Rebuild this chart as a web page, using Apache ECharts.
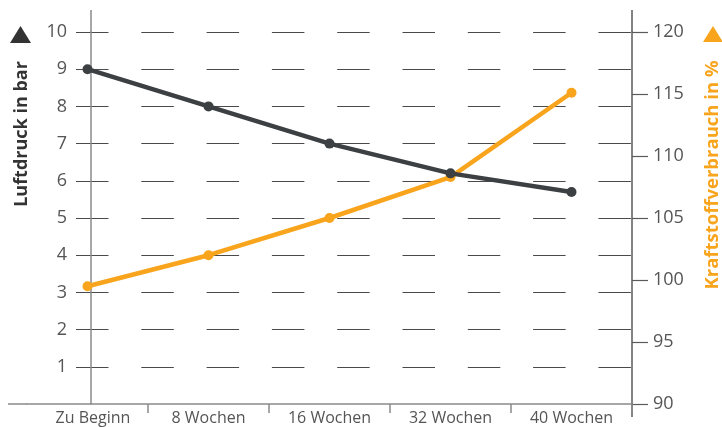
<!DOCTYPE html>
<html>
<head>
<meta charset="utf-8">
<script src="https://cdn.jsdelivr.net/npm/echarts@6/dist/echarts.min.js"></script>
<style>html,body{margin:0;padding:0;background:#fff;}#c{width:722px;height:427px;}</style>
</head>
<body>
<div id="c"></div>
<script>
const categories = ['Zu Beginn', '8 Wochen', '16 Wochen', '32 Wochen', '40 Wochen'];
const luftdruck = [9.0, 8.0, 7.0, 6.2, 5.7];
const kraftstoff = [99.5, 102, 105, 108.3, 115.1];
const leftName = 'Luftdruck in bar';
const rightName = 'Kraftstoffverbrauch in %';

const DARK = '#3c4042';
const ORANGE = '#f8a41c';
const FONT = '"Open Sans", "Noto Sans", sans-serif';

// dash pattern for horizontal grid lines (leading gap, then dashes)
const dash = [0, 49];
for (let i = 0; i < 8; i++) dash.push(32.5, 32.8);
dash.push(32.5, 2000);

const chart = echarts.init(document.getElementById('c'), null, {renderer: 'canvas'});
chart.setOption({
  animation: false,
  backgroundColor: '#fff',
  grid: {left: 27, right: 90, top: 32, bottom: 23, containLabel: false},
  xAxis: {
    type: 'category',
    data: categories,
    boundaryGap: true,
    axisLine: {show: true, lineStyle: {color: '#8a8a8a', width: 1.5}},
    axisTick: {show: true, length: 9, lineStyle: {color: '#8a8a8a', width: 1.5},
      interval: (i) => i !== 0},
    axisLabel: {
      interval: 0,
      color: '#555', fontSize: 16, fontFamily: FONT, margin: 6,
      formatter: (v, i) => i === 0 ? '{a|' + v + '}' : v,
      rich: {a: {color: '#555', fontSize: 16, fontFamily: FONT, padding: [0, 0, 0, 11]}}
    },
    splitLine: {show: false}
  },
  yAxis: [
    {
      type: 'value', position: 'left', min: 0, max: 10, interval: 1, offset: -64,
      axisLine: {show: true, lineStyle: {color: '#8a8a8a', width: 1.5}},
      axisTick: {show: false},
      axisLabel: {color: '#555', fontSize: 18, fontFamily: FONT, margin: 24,
        formatter: v => v === 0 ? '' : String(v)},
      splitLine: {show: true, showMinLine: false,
        lineStyle: {color: '#4a4a4a', width: 1, type: dash}}
    },
    {
      type: 'value', position: 'right', min: 90, max: 120, interval: 5,
      axisLine: {show: true, lineStyle: {color: '#5a5a5a', width: 1.5}},
      axisTick: {show: true, inside: false, length: 16, lineStyle: {color: '#5a5a5a', width: 1.2}},
      axisLabel: {color: '#555', fontSize: 18, fontFamily: FONT, margin: 21},
      splitLine: {show: false}
    }
  ],
  series: [
    {
      type: 'line', yAxisIndex: 1, data: kraftstoff,
      symbol: 'circle', symbolSize: 10,
      lineStyle: {color: ORANGE, width: 4.5},
      itemStyle: {color: ORANGE},
      z: 3
    },
    {
      type: 'line', yAxisIndex: 0, data: luftdruck,
      symbol: 'circle', symbolSize: 10,
      lineStyle: {color: DARK, width: 4.5},
      itemStyle: {color: DARK},
      z: 4
    }
  ],
  graphic: [
    {type: 'line', shape: {x1: 8, y1: 404, x2: 27, y2: 404}, style: {stroke: '#8a8a8a', lineWidth: 1.5}},
    {type: 'line', shape: {x1: 91, y1: 10, x2: 91, y2: 32}, style: {stroke: '#8a8a8a', lineWidth: 1.5}},
    {type: 'line', shape: {x1: 632, y1: 10, x2: 632, y2: 32}, style: {stroke: '#5a5a5a', lineWidth: 1.5}},
    {type: 'line', shape: {x1: 632, y1: 404, x2: 632, y2: 417}, style: {stroke: '#5a5a5a', lineWidth: 1.5}},
    {type: 'polygon', shape: {points: [[10, 43], [20.5, 26], [31, 43]]}, style: {fill: '#333'}},
    {type: 'polygon', shape: {points: [[703, 42], [713, 26], [723, 42]]}, style: {fill: ORANGE}},
    {type: 'text', x: 21.5, y: 134, rotation: Math.PI / 2,
      style: {text: leftName, fill: '#333', font: 'bold 18px ' + FONT, align: 'center', verticalAlign: 'middle'}},
    {type: 'text', x: 713, y: 175, rotation: Math.PI / 2,
      style: {text: rightName, fill: ORANGE, font: 'bold 18.5px ' + FONT, align: 'center', verticalAlign: 'middle'}}
  ]
});
</script>
</body>
</html>
